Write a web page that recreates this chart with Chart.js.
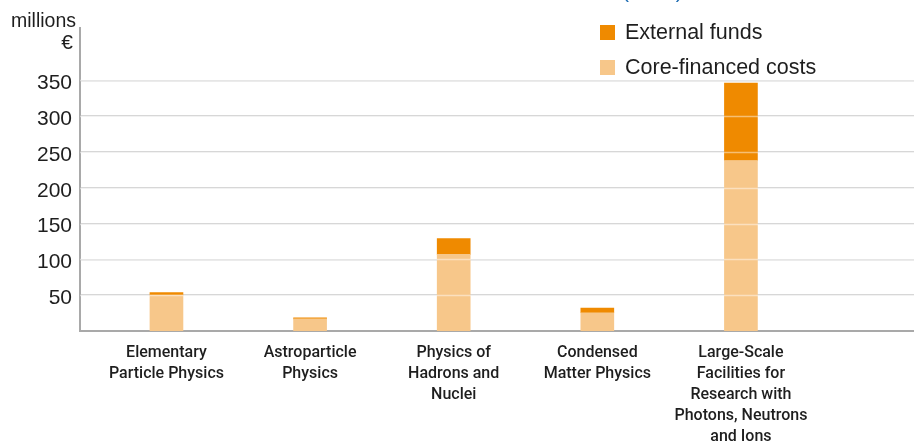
<!doctype html>
<html lang="en">
<head>
  <meta charset="utf-8">
  <title>Costs by research area</title>
  <script src="https://cdn.jsdelivr.net/npm/chart.js"></script>
  <style>
    body { margin: 0; background: #fff; }
    #wrap { position: relative; width: 914px; height: 441px; }
  </style>
</head>
<body>
  <div id="wrap"><canvas id="costs"></canvas></div>
<script>
  // ---- data (millions €) ----
  const categories = [
    ['Elementary', 'Particle Physics'],
    ['Astroparticle', 'Physics'],
    ['Physics of', 'Hadrons and', 'Nuclei'],
    ['Condensed', 'Matter Physics'],
    ['Large-Scale', 'Facilities for', 'Research with', 'Photons, Neutrons', 'and Ions']
  ]
  const coreCosts = [50, 17, 107, 25.5, 238]
  const externalFunds = [3.5, 1.5, 22, 6.5, 108]
  const yTicks = [50, 100, 150, 200, 250, 300, 350]
  const unitLines = ['millions', '€']
  const topTitle = '(2015)'

  const ORANGE = '#ef8a00'
  const LIGHT = '#f7c78a'
  const TEXT = '#1e1e1e'
  const AXIS = '#a9a9a9'

  const points = (arr) => arr.map((v, i) => ({ x: i, y: v }))

  // gridlines also show faintly over the bars
  const gridOverBars = {
    id: 'gridOverBars',
    afterDatasetsDraw(chart) {
      const { ctx, chartArea, scales } = chart
      ctx.save()
      ctx.strokeStyle = 'rgba(255,255,255,0.45)'
      ctx.lineWidth = 1.5
      scales.y.ticks.forEach(t => {
        const y = Math.round(scales.y.getPixelForValue(t.value)) + 0.5
        ctx.beginPath()
        ctx.moveTo(chartArea.left, y)
        ctx.lineTo(chartArea.right, y)
        ctx.stroke()
      })
      ctx.restore()
    }
  }

  // unit label, legend and cut title
  const extras = {
    id: 'extras',
    afterDraw(chart) {
      const ctx = chart.ctx
      ctx.save()
      ctx.fillStyle = TEXT
      ctx.textAlign = 'right'
      ctx.textBaseline = 'alphabetic'
      ctx.font = '19.5px "Liberation Sans", Arial, sans-serif'
      ctx.fillText(unitLines[0], 76, 27)
      ctx.font = '21px "Liberation Sans", Arial, sans-serif'
      ctx.fillText(unitLines[1], 73, 49)

      ctx.fillStyle = '#1f6db3'
      ctx.textAlign = 'left'
      ctx.font = '21px "Liberation Sans", Arial, sans-serif'
      ctx.fillText(topTitle, 622, -2)

      // legend, top item is the top of the stack
      const sets = chart.data.datasets.slice().reverse()
      ctx.textBaseline = 'middle'
      ctx.font = '21.5px "Liberation Sans", Arial, sans-serif'
      sets.forEach((ds, i) => {
        const y = 25 + i * 35
        ctx.fillStyle = ds.backgroundColor
        ctx.fillRect(600, y, 15, 15)
        ctx.fillStyle = TEXT
        ctx.fillText(ds.label, 625, y + 8)
      })
      ctx.restore()
    }
  }

  new Chart(document.getElementById('costs'), {
    type: 'bar',
    data: {
      datasets: [
        { label: 'Core-financed costs', data: points(coreCosts), backgroundColor: LIGHT, barThickness: 33 },
        { label: 'External funds', data: points(externalFunds), backgroundColor: ORANGE, barThickness: 33 }
      ]
    },
    options: {
      responsive: true,
      maintainAspectRatio: false,
      animation: false,
      layout: { padding: { top: 28, left: 0, right: 0, bottom: 0 } },
      plugins: {
        legend: { display: false },
        tooltip: { enabled: false }
      },
      scales: {
        x: {
          type: 'linear',
          stacked: true,
          offset: false,
          min: -0.602,
          max: 5.205,
          afterBuildTicks: (s) => { s.ticks = categories.map((c, i) => ({ value: i })) },
          afterFit: (s) => { s.height = 110 },
          grid: { display: false, drawTicks: false },
          border: { color: AXIS, width: 2 },
          ticks: {
            autoSkip: false,
            maxRotation: 0,
            padding: 11,
            color: TEXT,
            font: { family: 'Roboto', size: 16, weight: 500, lineHeight: 1.3125 },
            callback: (v) => categories[v] || ''
          }
        },
        y: {
          stacked: true,
          min: 0,
          max: 423,
          afterBuildTicks: (s) => { s.ticks = yTicks.map(v => ({ value: v })) },
          afterFit: (s) => { s.width = 80 },
          grid: { color: '#d2d2d2', lineWidth: 1.5, drawTicks: false },
          border: { color: AXIS, width: 2 },
          ticks: {
            padding: 8,
            labelOffset: 3,
            color: TEXT,
            font: { family: '"Liberation Sans", Arial, sans-serif', size: 21 }
          }
        }
      }
    },
    plugins: [gridOverBars, extras]
  })
</script>
</body>
</html>
